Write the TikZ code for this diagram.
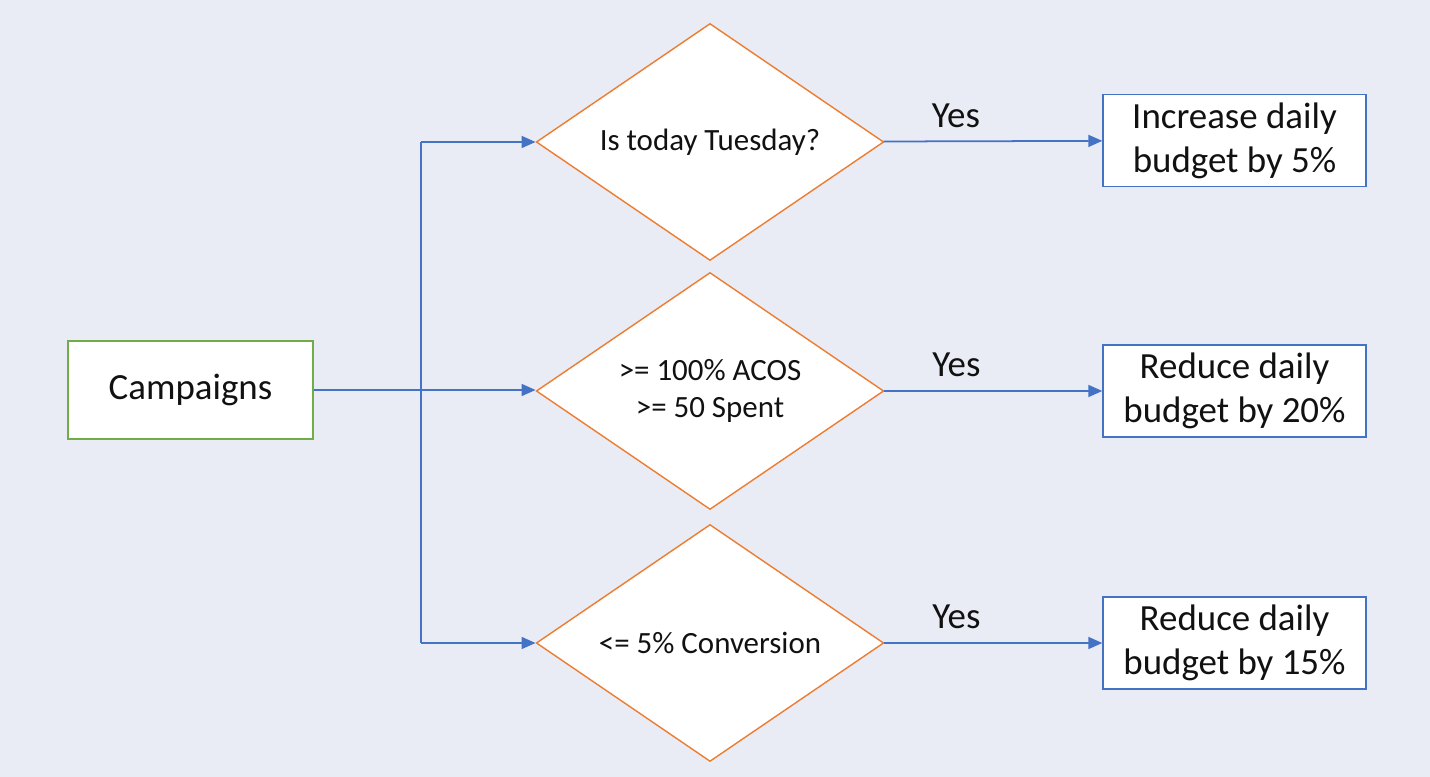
\documentclass[tikz,border=0pt]{standalone}
\usepackage{fontspec}
\setmainfont{Carlito}
\usepackage{tikz}
\usetikzlibrary{shapes.geometric,arrows.meta,positioning,calc}
\definecolor{pagebg}{HTML}{E9ECF5}
\definecolor{startgreen}{HTML}{70AD47}
\definecolor{testorange}{HTML}{ED7D31}
\definecolor{flowblue}{HTML}{4472C4}
\definecolor{ink}{HTML}{111111}

\begin{document}
\begin{tikzpicture}[font=\fontsize{21}{25}\selectfont,text=ink,
 start/.style={draw=startgreen,fill=white,line width=0.8pt,minimum width=4.9cm,minimum height=1.96cm,align=center},
 test/.style={diamond,aspect=1.46,draw=testorange,fill=white,line width=0.8pt,minimum width=6.95cm,minimum height=4.74cm,inner sep=0pt,align=center,font=\fontsize{17.6}{21.5}\selectfont},
 action/.style={draw=flowblue,fill=white,line width=0.8pt,minimum width=5.26cm,minimum height=1.84cm,align=center},
 wire/.style={draw=flowblue,line width=1pt},
 link/.style={wire,-{Triangle[length=0.28cm,width=0.24cm]}},
 yes/.style={pos=0.33,above=0.14cm}]
\fill[pagebg] (0,0) rectangle (28.6,-15.54);
\useasboundingbox (0,0) rectangle (28.6,-15.54);
\node[start] (camp) at (3.81,-7.8) {Campaigns};
\node[test] (tue) at (14.2,-2.84) {Is today Tuesday?};
\node[test] (acos) at (14.2,-7.82) {>= 100\% ACOS\\>= 50 Spent};
\node[test] (conv) at (14.2,-12.86) {<= 5\% Conversion};
\node[action] (up) at (24.69,-2.81) {Increase daily\\budget by 5\%};
\node[action] (down20) at (24.69,-7.82) {Reduce daily\\budget by 20\%};
\node[action] (down15) at (24.69,-12.86) {Reduce daily\\budget by 15\%};
\coordinate (split) at (8.42,-7.8);
\draw[link] (camp.east) -- (camp.east -| acos.west);
\draw[wire] (split |- tue.west) -- (split |- conv.west);
\draw[link] (split |- tue.west) -- (tue.west);
\draw[link] (split |- conv.west) -- (conv.west);
\draw[link] (tue) -- node[yes] (yes1) {Yes} (up);
\draw[link] (acos) -- node[yes] (yes2) {Yes} (down20);
\draw[link] (conv) -- node[yes] (yes3) {Yes} (down15);
\end{tikzpicture}
\end{document}
